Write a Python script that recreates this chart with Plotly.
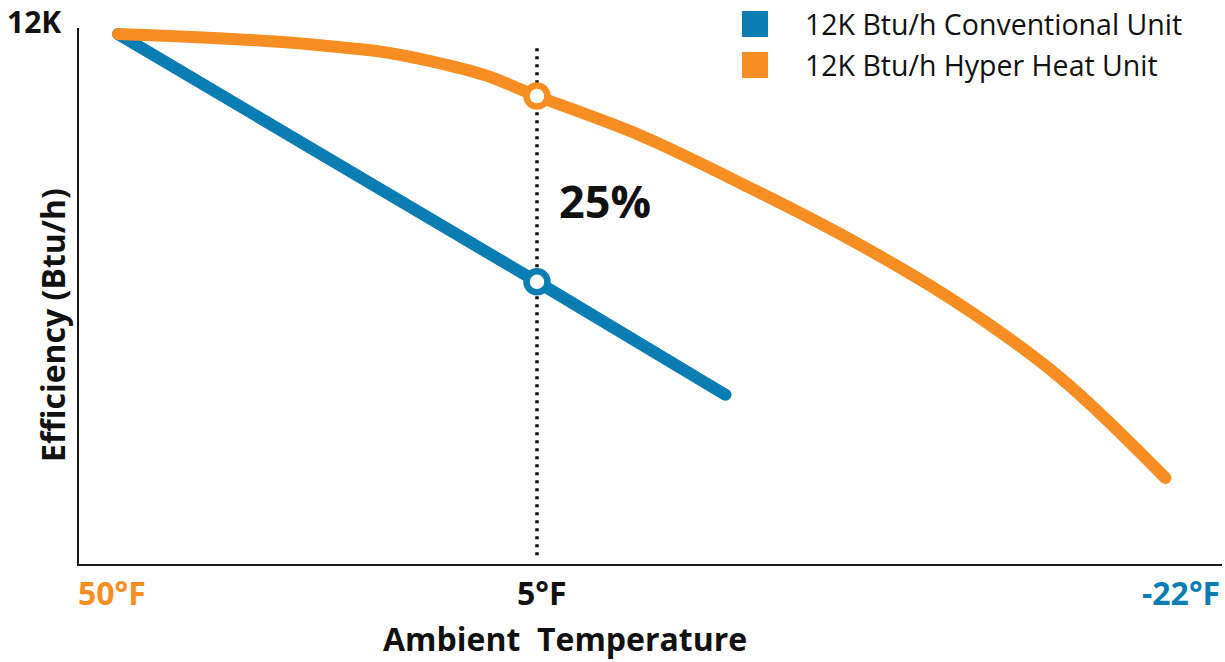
import plotly.graph_objects as go

BLUE = "#0a7db3"
ORANGE = "#f68e23"
INK = "#111111"
FONT = "Open Sans"

# series
series_names = ["12K Btu/h Conventional Unit", "12K Btu/h Hyper Heat Unit"]

# horizontal position along the temperature axis (50°F = 0, 5°F = 1, -22°F = 2.5)
conv_x = [0, 1, 1.45]
conv_y = [12000, 6390, 3830]

hyper_x = [0, 0.125, 0.25, 0.375, 0.5, 0.625, 0.75, 0.875, 1.0,
           1.25, 1.5, 1.75, 2.0, 2.25, 2.5]
hyper_y = [12000, 11955, 11898, 11830, 11728, 11604, 11377, 11072, 10596,
           9691, 8558, 7336, 5932, 4211, 1947]

tick_pos = [0, 1, 2.5]
tick_text = ["50°F", "5°F", "-22°F"]
tick_colors = [ORANGE, INK, BLUE]
tick_shift = [-6, 5, 16]

y_top_label = "12K"
y_top_value = 12000
mark_x = 1
gap_label = "25%"

# plot area in pixels (left, right, top, bottom)
L, R, T, B = 79, 1222, 28, 564


def px_x(px):
    return (px - L) / (R - L)


def px_y(py):
    return (B - py) / (B - T)


fig = go.Figure()

for xs, ys, color in [(conv_x, conv_y, BLUE), (hyper_x, hyper_y, ORANGE)]:
    fig.add_trace(
        go.Scatter(
            x=xs,
            y=ys,
            mode="lines",
            line=dict(color=color, width=12, shape="spline", smoothing=1.0),
            hoverinfo="skip",
        )
    )
    # round end caps
    fig.add_trace(
        go.Scatter(
            x=[xs[0], xs[-1]],
            y=[ys[0], ys[-1]],
            mode="markers",
            marker=dict(color=color, size=12, line=dict(width=0)),
            hoverinfo="skip",
        )
    )

# highlighted points at 5°F
for xs, ys, color in [(conv_x, conv_y, BLUE), (hyper_x, hyper_y, ORANGE)]:
    i = xs.index(mark_x)
    fig.add_trace(
        go.Scatter(
            x=[xs[i]],
            y=[ys[i]],
            mode="markers",
            marker=dict(color="white", size=21, line=dict(color=color, width=6.5)),
            hoverinfo="skip",
        )
    )

# dotted guide at 5°F
fig.add_shape(
    type="line",
    x0=mark_x,
    x1=mark_x,
    y0=200,
    y1=11770,
    line=dict(color=INK, width=3.5, dash="3px,5px"),
    layer="below",
)

annotations = []

# temperature labels under the axis
for pos, txt, col, sh in zip(tick_pos, tick_text, tick_colors, tick_shift):
    annotations.append(
        dict(
            x=pos, y=px_y(592), xref="x", yref="paper", text=txt, showarrow=False,
            xanchor="center", yanchor="middle", xshift=sh,
            font=dict(family=FONT, size=32, color=col, weight="bold"),
        )
    )

annotations += [
    dict(
        x=0, y=y_top_value, xref="paper", yref="y", text=y_top_label,
        showarrow=False, xanchor="right", yanchor="middle", xshift=-16, yshift=13,
        font=dict(family=FONT, size=30, color=INK, weight="bold"),
    ),
    dict(
        x=px_x(52), y=px_y(325), xref="paper", yref="paper",
        text="Efficiency (Btu/h)", textangle=-90, showarrow=False,
        xanchor="center", yanchor="middle",
        font=dict(family=FONT, size=32, color=INK, weight="bold"),
    ),
    dict(
        x=px_x(565), y=px_y(638), xref="paper", yref="paper",
        text="Ambient\u00a0 Temperature", showarrow=False,
        xanchor="center", yanchor="middle",
        font=dict(family=FONT, size=32, color=INK, weight="bold"),
    ),
    dict(
        x=1.162, y=8240, xref="x", yref="y", text=gap_label, showarrow=False,
        xanchor="center", yanchor="middle",
        font=dict(family=FONT, size=45, color=INK, weight="bold"),
    ),
]

# legend drawn by hand (large swatches)
for k, (name, color) in enumerate(zip(series_names, [BLUE, ORANGE])):
    top = 11 + 41 * k
    fig.add_shape(
        type="rect", xref="paper", yref="paper",
        x0=px_x(742), x1=px_x(768), y0=px_y(top), y1=px_y(top + 26),
        fillcolor=color, line=dict(width=0),
    )
    annotations.append(
        dict(
            x=px_x(803), y=px_y(top + 13), xref="paper", yref="paper",
            text=name, showarrow=False, xanchor="left", yanchor="middle",
            font=dict(family=FONT, size=28.5, color=INK),
        )
    )

axis_style = dict(
    showgrid=False,
    zeroline=False,
    showline=True,
    linecolor="#1a1a1a",
    linewidth=2,
    showticklabels=False,
    ticks="",
    fixedrange=True,
)

fig.update_layout(
    width=1225,
    height=662,
    margin=dict(l=L, r=1225 - R, t=T, b=662 - B, autoexpand=False),
    paper_bgcolor="white",
    plot_bgcolor="white",
    showlegend=False,
    xaxis=dict(range=[-0.0931, 2.635], **axis_style),
    yaxis=dict(range=[0, 12136], **axis_style),
    annotations=annotations,
)

fig.write_html(
    "out.html",
    config={"displayModeBar": False},
    post_script="document.body.style.margin='0px';",
)
